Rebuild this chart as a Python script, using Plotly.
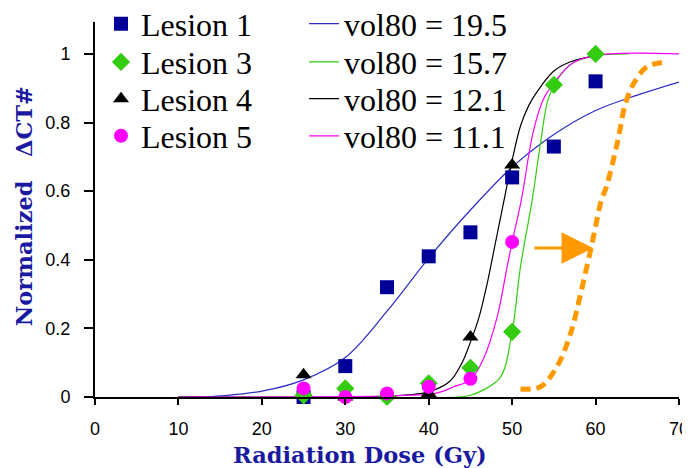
import plotly.graph_objects as go

# ---- data ----
dose = [25, 30, 35, 40, 45, 50, 55, 60]
lesion1 = [0.0, 0.09, 0.32, 0.41, 0.48, 0.64, 0.73, 0.92]
lesion3 = [0.005, 0.025, 0.0, 0.04, 0.085, 0.19, 0.91, 1.0]
dose45 = [25, 30, 35, 40, 45, 50]
lesion4 = [0.065, 0.0, 0.005, 0.01, 0.175, 0.676]
lesion5 = [0.025, 0.0, 0.01, 0.03, 0.053, 0.452]

fit1_x = [10, 13, 15, 20, 25, 30, 35, 40, 45, 50, 55, 60, 65, 70]
fit1_y = [0, 0, 0.003, 0.017, 0.05, 0.115, 0.25, 0.405, 0.545, 0.67, 0.765, 0.835, 0.88, 0.918]
fit3_x = [10, 43.5, 45, 46.5, 48.6, 50, 51, 52.4, 53.4, 54.3, 55.4, 57.3, 60, 64]
fit3_y = [0, 0.0, 0.005, 0.02, 0.058, 0.19, 0.38, 0.574, 0.74, 0.866, 0.924, 0.974, 0.995, 1.0]
fit4_x = [10, 35, 37.5, 40, 42.5, 44, 45, 46, 47, 48, 49, 50, 51, 52, 53, 55, 57, 60]
fit4_y = [0, 0.002, 0.006, 0.015, 0.045, 0.1, 0.16, 0.23, 0.33, 0.45, 0.57, 0.69, 0.79, 0.85, 0.89, 0.95, 0.977, 0.995]
fit5_x = [10, 40, 41.5, 43, 45, 46.5, 48.2, 49.4, 50, 51.1, 52.5, 53.7, 55, 57.3, 60.5, 70]
fit5_y = [0, 0.008, 0.015, 0.03, 0.05, 0.108, 0.233, 0.38, 0.452, 0.574, 0.77, 0.866, 0.915, 0.974, 0.997, 1.0]
shift_x = [51, 53.4, 55.4, 57, 58.2, 59.6, 60.7, 61.3, 62.6, 63.6, 64.6, 66.2, 68.6]
shift_y = [0.023, 0.03, 0.09, 0.185, 0.30, 0.45, 0.574, 0.613, 0.74, 0.857, 0.915, 0.963, 0.977]

lesion_names = ["Lesion 1", "Lesion 3", "Lesion 4", "Lesion 5"]
fit_names = ["vol80 = 19.5", "vol80 = 15.7", "vol80 = 12.1", "vol80 = 11.1"]
x_ticks = [0, 10, 20, 30, 40, 50, 60, 70]
y_ticks = [0, 0.2, 0.4, 0.6, 0.8, 1.0]
y_ticktext = ["0", "0.2", "0.4", "0.6", "0.8", "1"]

NAVY = "#000099"
BLUE = "#2B2BC8"
GREEN = "#33CC11"
BLACK = "#000000"
MAGENTA = "#FF00FF"
ORANGE = "#FF9900"
TITLE_BLUE = "#1A1AA0"

fig = go.Figure()

# legend rows (paper y of each row centre)
row_y = [0.995, 0.893, 0.795, 0.696]
LEG_FONT = dict(family="Liberation Serif", size=32, color="black")

# fitted lines: one legend per row in the right column
for i, (xs, ys, name, col) in enumerate([
    (fit1_x, fit1_y, fit_names[0], BLUE),
    (fit3_x, fit3_y, fit_names[1], GREEN),
    (fit4_x, fit4_y, fit_names[2], BLACK),
    (fit5_x, fit5_y, fit_names[3], MAGENTA),
]):
    fig.add_trace(go.Scatter(x=xs, y=ys, mode="lines", name=name,
                             line=dict(color=col, width=1.2, shape="spline"),
                             legend="legend%d" % (5 + i), cliponaxis=False))

fig.add_trace(go.Scatter(x=shift_x, y=shift_y, mode="lines", showlegend=False,
                         line=dict(color=ORANGE, width=5, dash="10px,6px", shape="spline")))

# data markers: one legend per row in the left column
for i, (xs, ys, name, col, sym) in enumerate([
    (dose, lesion1, lesion_names[0], NAVY, "square"),
    (dose, lesion3, lesion_names[1], GREEN, "diamond"),
    (dose45, lesion4, lesion_names[2], BLACK, "triangle-up"),
    (dose45, lesion5, lesion_names[3], MAGENTA, "circle"),
]):
    fig.add_trace(go.Scatter(x=xs, y=ys, mode="markers", name=name,
                             marker=dict(color=col, symbol=sym, size=14, line=dict(width=0)),
                             legend="legend" if i == 0 else "legend%d" % (1 + i),
                             cliponaxis=False))

fig.add_annotation(x=59.7, y=0.434, ax=52.5, ay=0.434, xref="x", yref="y",
                   axref="x", ayref="y", text="", showarrow=True,
                   arrowhead=2, arrowsize=2.1, arrowwidth=3, arrowcolor=ORANGE)

fig.add_annotation(x=0.454, y=-0.155, xref="paper", yref="paper",
                   xanchor="center", yanchor="middle",
                   text="<b>Radiation Dose (Gy)</b>", showarrow=False,
                   font=dict(family="DejaVu Serif", size=22.5, color=TITLE_BLUE))
fig.add_annotation(x=-0.122, y=0.508, xref="paper", yref="paper", textangle=-90,
                   xanchor="center", yanchor="middle",
                   text="<b>Normalized" + "\u00a0" * 3 + "ΔCT#</b>", showarrow=False,
                   font=dict(family="DejaVu Serif", size=22.5, color=TITLE_BLUE))

legends = {}
for i in range(8):
    key = "legend" if i == 0 else "legend%d" % (i + 1)
    col = i // 4
    legends[key] = dict(x=0.0103 if col == 0 else 0.358, y=row_y[i % 4],
                        xanchor="left", yanchor="middle", bgcolor="rgba(0,0,0,0)",
                        font=LEG_FONT, itemwidth=30)

# page body has an 8px margin, so the figure is 682x460 and offset by 8px
fig.update_layout(
    width=682, height=460,
    margin=dict(l=87, r=11, t=14, b=71, autoexpand=False),
    paper_bgcolor="white", plot_bgcolor="white",
    font=dict(family="Liberation Sans", color="black"),
    xaxis=dict(range=[0, 70], tickvals=x_ticks, showline=True, linecolor="black",
               linewidth=2, ticks="outside", ticklen=6, tickwidth=1.5, tickcolor="black",
               showgrid=False, zeroline=False, automargin=False,
               tickfont=dict(size=18, family="Liberation Sans"), ticklabelstandoff=8),
    yaxis=dict(range=[0, 1.093], tickvals=y_ticks, ticktext=y_ticktext, showline=True,
               linecolor="black", linewidth=2, ticks="outside", ticklen=9, tickwidth=1.5,
               tickcolor="black", showgrid=False, zeroline=False, automargin=False,
               tickfont=dict(size=18, family="Liberation Sans"), ticklabelstandoff=10),
    **legends,
)

fig.write_html("out.html")
